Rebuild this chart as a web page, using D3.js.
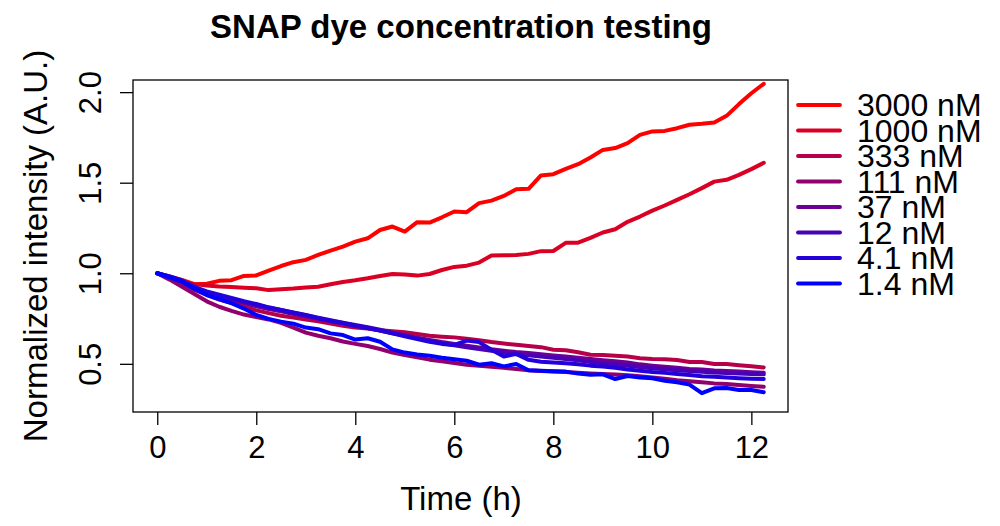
<!DOCTYPE html>
<html>
<head>
<meta charset="utf-8">
<script src="https://cdn.jsdelivr.net/npm/d3@7"></script>
<style>
	body { margin: 0; background: #fff; }
	svg text { font-family: "Liberation Sans", Arial, Helvetica, sans-serif; fill: #000; }
</style>
</head>
<body>
<div id="chart"></div>
<script>
// time points (h)
var times = [0, 0.25, 0.5, 0.75, 1, 1.25, 1.5, 1.75, 2, 2.25, 2.5, 2.75, 3, 3.25, 3.5, 3.75, 4, 4.25, 4.5, 4.75,
	5, 5.25, 5.5, 5.75, 6, 6.25, 6.5, 6.75, 7, 7.25, 7.5, 7.75, 8, 8.25, 8.5, 8.75, 9, 9.25, 9.5, 9.75,
	10, 10.25, 10.5, 10.75, 11, 11.25, 11.5, 11.75, 12, 12.25];

var labels = ["3000 nM", "1000 nM", "333 nM", "111 nM", "37 nM", "12 nM", "4.1 nM", "1.4 nM"];
var colors = ["#FF0000", "#DA0024", "#B60049", "#92006D", "#6D0092", "#4900B6", "#2400DA", "#0000FF"];

var s3000 = [1.000, 0.982, 0.963, 0.940, 0.942, 0.958, 0.962, 0.985, 0.988, 1.015, 1.040, 1.061, 1.074, 1.101, 1.125, 1.147, 1.175, 1.193, 1.239, 1.258,
	1.230, 1.282, 1.280, 1.309, 1.341, 1.337, 1.387, 1.401, 1.427, 1.464, 1.466, 1.540, 1.547, 1.576, 1.602, 1.639, 1.681, 1.691, 1.718, 1.764,
	1.783, 1.786, 1.801, 1.820, 1.825, 1.832, 1.869, 1.934, 1.994, 2.046];
var s1000 = [1.000, 0.972, 0.950, 0.940, 0.932, 0.927, 0.924, 0.920, 0.917, 0.907, 0.912, 0.916, 0.922, 0.926, 0.939, 0.952, 0.961, 0.972, 0.985, 0.996,
	0.993, 0.987, 0.996, 1.018, 1.035, 1.042, 1.059, 1.098, 1.099, 1.101, 1.107, 1.122, 1.123, 1.168, 1.169, 1.195, 1.225, 1.243, 1.284, 1.313,
	1.346, 1.374, 1.405, 1.436, 1.470, 1.506, 1.516, 1.543, 1.575, 1.610];
var s333 = [1.000, 0.975, 0.945, 0.910, 0.880, 0.855, 0.835, 0.815, 0.795, 0.780, 0.765, 0.755, 0.745, 0.735, 0.722, 0.710, 0.700, 0.695, 0.685, 0.680,
	0.675, 0.665, 0.655, 0.650, 0.646, 0.638, 0.630, 0.620, 0.612, 0.605, 0.598, 0.592, 0.578, 0.575, 0.564, 0.550, 0.549, 0.544, 0.540, 0.531,
	0.527, 0.525, 0.521, 0.510, 0.510, 0.499, 0.499, 0.492, 0.486, 0.480];
var s111 = [1.000, 0.965, 0.925, 0.885, 0.845, 0.815, 0.792, 0.772, 0.758, 0.745, 0.726, 0.700, 0.672, 0.655, 0.641, 0.623, 0.610, 0.598, 0.582, 0.562,
	0.548, 0.536, 0.523, 0.514, 0.505, 0.495, 0.490, 0.484, 0.478, 0.471, 0.465, 0.461, 0.458, 0.455, 0.451, 0.447, 0.444, 0.441, 0.437, 0.431,
	0.425, 0.418, 0.410, 0.404, 0.398, 0.392, 0.389, 0.383, 0.378, 0.373];
var s37 = [1.000, 0.975, 0.950, 0.912, 0.888, 0.870, 0.853, 0.835, 0.818, 0.802, 0.790, 0.775, 0.762, 0.748, 0.735, 0.722, 0.708, 0.697, 0.684, 0.668,
	0.656, 0.644, 0.632, 0.620, 0.610, 0.600, 0.590, 0.580, 0.572, 0.565, 0.560, 0.553, 0.546, 0.540, 0.533, 0.526, 0.520, 0.514, 0.507, 0.497,
	0.490, 0.484, 0.478, 0.472, 0.468, 0.463, 0.460, 0.457, 0.454, 0.451];
var s12 = [1.000, 0.980, 0.955, 0.918, 0.895, 0.878, 0.860, 0.842, 0.826, 0.810, 0.797, 0.783, 0.770, 0.755, 0.741, 0.727, 0.714, 0.702, 0.688, 0.672,
	0.657, 0.642, 0.628, 0.614, 0.603, 0.592, 0.582, 0.572, 0.562, 0.553, 0.547, 0.540, 0.533, 0.527, 0.520, 0.510, 0.503, 0.496, 0.489, 0.482,
	0.476, 0.470, 0.465, 0.460, 0.456, 0.452, 0.449, 0.446, 0.444, 0.442];
var s4_1 = [1.000, 0.983, 0.960, 0.925, 0.900, 0.882, 0.864, 0.846, 0.830, 0.812, 0.798, 0.782, 0.768, 0.752, 0.738, 0.725, 0.710, 0.698, 0.684, 0.668,
	0.652, 0.637, 0.622, 0.610, 0.604, 0.628, 0.620, 0.578, 0.540, 0.555, 0.522, 0.512, 0.507, 0.503, 0.497, 0.490, 0.485, 0.478, 0.469, 0.462,
	0.455, 0.450, 0.444, 0.438, 0.432, 0.428, 0.424, 0.421, 0.418, 0.416];
var s1_4 = [1.000, 0.978, 0.955, 0.915, 0.880, 0.858, 0.835, 0.805, 0.770, 0.748, 0.733, 0.722, 0.700, 0.691, 0.668, 0.659, 0.634, 0.641, 0.622, 0.580,
	0.562, 0.551, 0.545, 0.534, 0.525, 0.517, 0.495, 0.503, 0.486, 0.499, 0.464, 0.462, 0.459, 0.457, 0.446, 0.440, 0.442, 0.416, 0.433, 0.425,
	0.420, 0.407, 0.398, 0.385, 0.338, 0.365, 0.366, 0.355, 0.355, 0.343];

var xTicks = [0, 2, 4, 6, 8, 10, 12];
var yTicks = [0.5, 1.0, 1.5, 2.0];
var yTickLabels = ["0.5", "1.0", "1.5", "2.0"];

var seriesValues = [s3000, s1000, s333, s111, s37, s12, s4_1, s1_4];

var W = 1000, H = 526;
var box = { left: 133, right: 788, top: 80, bottom: 412 };

var svg = d3.select("#chart").append("svg")
	.attr("width", W)
	.attr("height", H);

// R style ranges: 4% padding on x, fixed ylim on y
var x = d3.scaleLinear()
	.domain([-0.49, 12.74])
	.range([box.left, box.right]);
var y = d3.scaleLinear()
	.domain([0.234, 2.067])
	.range([box.bottom, box.top]);

var line = d3.line()
	.x(function (d) { return x(d.t); })
	.y(function (d) { return y(d.v); });

var series = seriesValues.map(function (vals, i) {
	return {
		name: labels[i],
		color: colors[i],
		values: vals.map(function (v, j) { return { t: times[j], v: v }; })
	};
});

var plot = svg.append("g").attr("class", "lines");
plot.selectAll("path").data(series).enter().append("path")
	.attr("d", function (d) { return line(d.values); })
	.attr("fill", "none")
	.attr("stroke", function (d) { return d.color; })
	.attr("stroke-width", 4)
	.attr("stroke-linejoin", "round")
	.attr("stroke-linecap", "round");

// box
svg.append("rect")
	.attr("x", box.left)
	.attr("y", box.top)
	.attr("width", box.right - box.left)
	.attr("height", box.bottom - box.top)
	.attr("fill", "none")
	.attr("stroke", "#000")
	.attr("stroke-width", 1.3);

// x axis
var xAxis = d3.axisBottom(x)
	.tickValues(xTicks)
	.tickSize(13)
	.tickPadding(11)
	.tickFormat(d3.format("d"));
var gx = svg.append("g")
	.attr("transform", "translate(0," + box.bottom + ")")
	.call(xAxis);
gx.select(".domain").remove();
gx.selectAll("line").attr("stroke", "#000").attr("stroke-width", 1.3);
gx.selectAll("text").style("font-size", "31px");

// y axis, labels rotated like R's default las
var yAxis = d3.axisLeft(y)
	.tickValues(yTicks)
	.tickSize(13)
	.tickFormat(function (d, i) { return yTickLabels[i]; });
var gy = svg.append("g")
	.attr("transform", "translate(" + box.left + ",0)")
	.call(yAxis);
gy.select(".domain").remove();
gy.selectAll("line").attr("stroke", "#000").attr("stroke-width", 1.3);
gy.selectAll("text")
	.attr("x", null)
	.attr("dy", null)
	.attr("text-anchor", "middle")
	.attr("transform", "translate(-32,0) rotate(-90)")
	.style("font-size", "31px");

// titles
svg.append("text")
	.attr("x", 461)
	.attr("y", 38)
	.attr("text-anchor", "middle")
	.style("font-size", "33px")
	.style("font-weight", "bold")
	.text("SNAP dye concentration testing");

svg.append("text")
	.attr("x", 461)
	.attr("y", 510)
	.attr("text-anchor", "middle")
	.style("font-size", "33px")
	.text("Time (h)");

svg.append("text")
	.attr("transform", "translate(47," + ((box.top + box.bottom) / 2) + ") rotate(-90)")
	.attr("text-anchor", "middle")
	.style("font-size", "33px")
	.text("Normalized intensity (A.U.)");

// legend (rows overlap slightly, as in the original)
var legend = svg.append("g").attr("class", "legend");
var rows = legend.selectAll("g").data(series).enter().append("g")
	.attr("transform", function (d, i) { return "translate(798," + (105 + i * 25.5) + ")"; });
rows.append("line")
	.attr("x1", 0)
	.attr("x2", 42)
	.attr("stroke", function (d) { return d.color; })
	.attr("stroke-width", 3.8)
	.attr("stroke-linecap", "round");
rows.append("text")
	.attr("x", 59)
	.attr("y", 11)
	.style("font-size", "32px")
	.text(function (d) { return d.name; });
</script>
</body>
</html>
